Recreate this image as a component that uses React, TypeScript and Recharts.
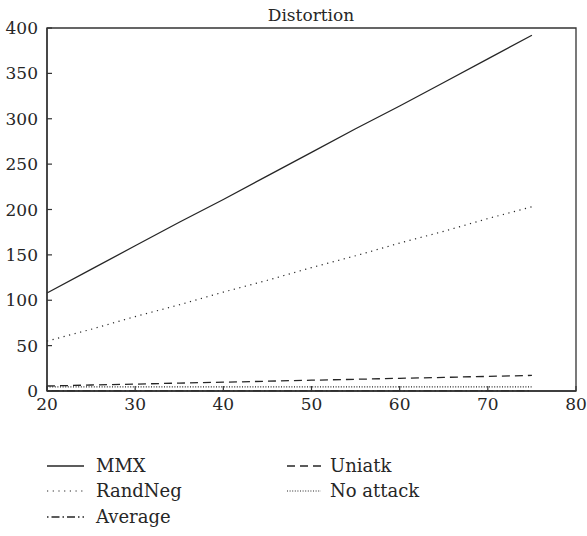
import React from 'react';
import { LineChart, Line, XAxis, YAxis, ReferenceArea } from 'recharts';

// attack strength (x) and measured distortion per attack type
const attackLevels = [20, 25, 30, 35, 40, 45, 50, 55, 60, 65, 70, 75];
const mmx = [108, 134, 160, 186, 211, 237, 263, 289, 314, 340, 366, 392];
const randNeg = [55, 68, 82, 95, 109, 122, 136, 149, 163, 176, 190, 203];
const uniatk = [5.5, 6.6, 7.6, 8.7, 9.7, 10.8, 11.9, 12.9, 14, 15, 16.1, 17.2];
const noAttack = [4.5, 4.5, 4.5, 4.5, 4.5, 4.5, 4.5, 4.5, 4.5, 4.5, 4.5, 4.5];
const average = [0.3, 0.3, 0.3, 0.3, 0.3, 0.3, 0.3, 0.3, 0.3, 0.3, 0.3, 0.3];

const xTicks = [20, 30, 40, 50, 60, 70, 80];
const yTicks = [0, 50, 100, 150, 200, 250, 300, 350, 400];

const seriesList = [
  { key: 'mmx', name: 'MMX', dash: undefined, width: 1.3 },
  { key: 'randNeg', name: 'RandNeg', dash: '1.2 4.5', width: 1.2 },
  { key: 'average', name: 'Average', dash: '1.5 3 8 3', width: 1.3 },
  { key: 'uniatk', name: 'Uniatk', dash: '8 5', width: 1.3 },
  { key: 'noAttack', name: 'No attack', dash: '1 1.6', width: 1.1 },
];

const rows = attackLevels.map((x, i) => ({
  x,
  mmx: mmx[i],
  randNeg: randNeg[i],
  uniatk: uniatk[i],
  noAttack: noAttack[i],
  average: average[i],
}));

const FONT = 'DejaVu Serif';
const INK = '#262626';

// legend slots: two columns, three rows
const legendSlots = [
  { line: [47, 84], textX: 96, y: 466 },
  { line: [47, 84], textX: 96, y: 491 },
  { line: [47, 84], textX: 96, y: 517 },
  { line: [287, 321], textX: 330, y: 466 },
  { line: [287, 321], textX: 330, y: 491 },
];

export default function App() {
  return (
    <div
      style={{
        position: 'absolute',
        left: 0,
        top: 0,
        width: 587,
        height: 536,
        background: '#fff',
        fontFamily: FONT,
      }}
    >
      <LineChart
        width={587}
        height={536}
        data={rows}
        margin={{ top: 28, right: 11, bottom: 115, left: 0 }}
      >
        <XAxis
          dataKey="x"
          type="number"
          domain={[20, 80]}
          ticks={xTicks}
          height={30}
          tickSize={-5}
          tickMargin={12}
          axisLine={{ stroke: '#333', strokeWidth: 1.4 }}
          tickLine={{ stroke: '#333', strokeWidth: 1.2 }}
          tick={{ fontSize: 17, fill: INK, fontFamily: FONT }}
        />
        <YAxis
          type="number"
          domain={[0, 400]}
          ticks={yTicks}
          width={47}
          tickSize={-5}
          tickMargin={14}
          axisLine={{ stroke: '#333', strokeWidth: 1.4 }}
          tickLine={{ stroke: '#333', strokeWidth: 1.2 }}
          tick={{ fontSize: 17, fill: INK, fontFamily: FONT }}
        />
        <ReferenceArea x1={20} x2={80} y1={0} y2={400} fill="none" stroke="#333" strokeWidth={1.3} />
        {seriesList.map((s) => (
          <Line
            key={s.key}
            dataKey={s.key}
            name={s.name}
            type="linear"
            stroke={INK}
            strokeWidth={s.width}
            strokeDasharray={s.dash}
            dot={false}
            activeDot={false}
            isAnimationActive={false}
          />
        ))}
      </LineChart>
      <svg
        width={587}
        height={536}
        style={{ position: 'absolute', left: 0, top: 0, pointerEvents: 'none' }}
      >
        <text x={311} y={21} textAnchor="middle" fontFamily={FONT} fontSize={17} fill={INK}>
          Distortion
        </text>
        {seriesList.map((s, i) => {
          const slot = legendSlots[i];
          return (
            <g key={s.key}>
              <line
                x1={slot.line[0]}
                x2={slot.line[1]}
                y1={slot.y}
                y2={slot.y}
                stroke={INK}
                strokeWidth={s.width}
                strokeDasharray={s.dash}
              />
              <text x={slot.textX} y={slot.y + 6} fontFamily={FONT} fontSize={18} fill={INK}>
                {s.name}
              </text>
            </g>
          );
        })}
      </svg>
    </div>
  );
}
